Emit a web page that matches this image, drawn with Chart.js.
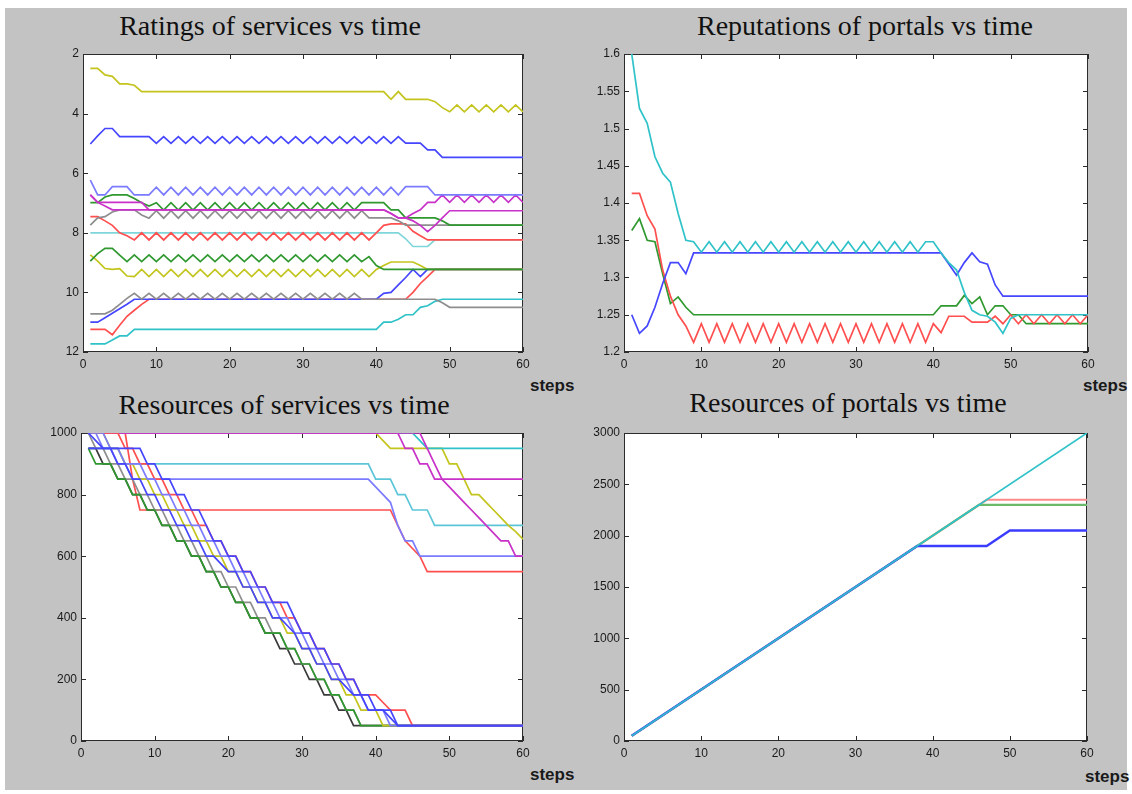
<!DOCTYPE html>
<html>
<head>
<meta charset="utf-8">
<script src="https://cdn.jsdelivr.net/npm/chart.js@4.4.0/dist/chart.umd.min.js"></script>
<style>
body { margin: 0; background: #fff; width: 1132px; height: 794px; position: relative; overflow: hidden; }
#fig { position: absolute; left: 5px; top: 8px; width: 1122px; height: 782px; background: #c3c3c3; }
canvas { position: absolute; }
.ttl { position: absolute; width: 460px; text-align: center; font: 28px "Liberation Serif", "Times New Roman", serif; color: #111; line-height: 30px; white-space: nowrap; }
.stp { position: absolute; font: bold 17px "Liberation Sans", Arial, sans-serif; color: #1a1a1a; line-height: 20px; }
</style>
</head>
<body>
<div id="fig"></div>
<div class="ttl" style="left:40px;top:11px">Ratings of services vs time</div>
<div class="ttl" style="left:635px;top:11px">Reputations of portals vs time</div>
<div class="ttl" style="left:54px;top:390px">Resources of services vs time</div>
<div class="ttl" style="left:618px;top:388px">Resources of portals vs time</div>
<div class="stp" style="left:530px;top:376px">steps</div>
<div class="stp" style="left:1083px;top:376px">steps</div>
<div class="stp" style="left:530px;top:765px">steps</div>
<div class="stp" style="left:1085px;top:767px">steps</div>
<canvas id="tl"></canvas>
<canvas id="tr"></canvas>
<canvas id="bl"></canvas>
<canvas id="br"></canvas>
<script>
const steps = [1,2,3,4,5,6,7,8,9,10,11,12,13,14,15,16,17,18,19,20,21,22,23,24,25,26,27,28,29,30,
  31,32,33,34,35,36,37,38,39,40,41,42,43,44,45,46,47,48,49,50,51,52,53,54,55,56,57,58,59,60];
const xTicks = [0, 10, 20, 30, 40, 50, 60];

// ratings of services (y axis reversed, 2 at top)
const ratYellowTop = [2.48,2.48,2.70,2.75,3.00,3.00,3.05,3.26,
  3.26,3.26,3.26,3.26,3.26,3.26,3.26,3.26,3.26,3.26,3.26,
  3.26,3.26,3.26,3.26,3.26,3.26,3.26,3.26,3.26,3.26,3.26,
  3.26,3.26,3.26,3.26,3.26,3.26,3.26,3.26,3.26,3.26,3.26,
  3.52,3.26,3.52,3.52,3.52,3.52,3.60,3.80,
  3.94,3.71,3.94,3.71,3.94,3.71,3.94,3.71,3.94,3.71,3.94];
const ratBlueUp = [5.02,4.75,4.50,4.50,4.77,4.77,4.77,4.77,4.77,
  5.00,4.77,5.00,4.77,5.00,4.77,5.00,4.77,5.00,4.77,
  5.00,4.77,5.00,4.77,5.00,4.77,5.00,4.77,5.00,4.77,
  5.00,4.77,5.00,4.77,5.00,4.77,5.00,4.77,5.00,4.77,
  5.00,4.77,5.00,4.77,
  4.99,4.99,4.99,5.22,5.22,
  5.47,5.47,5.47,5.47,5.47,5.47,5.47,5.47,5.47,5.47,5.47,5.47];
const ratBlueLow = [6.23,6.73,6.73,6.45,6.45,6.45,6.73,6.73,6.73,
  6.47,6.73,6.47,6.73,6.47,6.73,6.47,6.73,6.47,6.73,
  6.47,6.73,6.47,6.73,6.47,6.73,6.47,6.73,6.47,6.73,
  6.47,6.73,6.47,6.73,6.47,6.73,6.47,6.73,6.47,6.73,
  6.47,6.73,6.47,6.73,
  6.45,6.45,6.45,6.45,
  6.73,6.73,6.73,6.73,6.73,6.73,6.73,6.73,6.73,6.73,6.73,6.73,6.73];
const ratMagA = [6.73,6.98,6.98,6.98,6.98,6.98,6.98,6.98,7.23,
  7.23,7.23,7.23,7.23,7.23,7.23,7.23,7.23,7.23,7.23,7.23,7.23,7.23,7.23,7.23,7.23,
  7.23,7.23,7.23,7.23,7.23,7.23,7.23,7.23,7.23,7.23,7.23,7.23,7.23,7.23,7.23,7.23,
  7.35,7.50,7.50,7.35,7.23,6.98,6.98,6.73,
  6.98,6.73,6.98,6.73,6.98,6.73,6.98,6.73,6.98,6.73,6.98];
const ratMagB = [6.73,6.98,7.10,
  7.23,7.23,7.23,7.23,7.23,7.23,7.23,7.23,7.23,7.23,7.23,7.23,7.23,7.23,7.23,7.23,7.23,7.23,7.23,
  7.23,7.23,7.23,7.23,7.23,7.23,7.23,7.23,7.23,7.23,7.23,7.23,7.23,7.23,7.23,7.23,7.23,7.23,7.23,
  7.35,7.50,7.50,7.60,7.75,7.96,7.75,7.50,
  7.26,7.26,7.26,7.26,7.26,7.26,7.26,7.26,7.26,7.26,7.26];
const ratGreenUp = [6.99,6.99,6.80,6.73,6.73,6.73,6.85,6.99,7.10,
  6.99,7.24,6.99,7.24,6.99,7.24,6.99,7.24,6.99,7.24,
  6.99,7.24,6.99,7.24,6.99,7.24,6.99,7.24,6.99,7.24,
  6.99,7.24,6.99,7.24,6.99,7.24,6.99,7.24,6.99,
  6.99,6.99,6.99,7.23,7.23,7.50,7.50,7.50,7.50,7.50,7.60,
  7.74,7.74,7.74,7.74,7.74,7.74,7.74,7.74,7.74,7.74,7.74];
const ratGrayUp = [7.74,7.50,7.46,7.30,7.23,7.23,7.23,7.40,7.51,
  7.26,7.51,7.26,7.51,7.26,7.51,7.26,7.51,7.26,7.51,
  7.26,7.51,7.26,7.51,7.26,7.51,7.26,7.51,7.26,7.51,
  7.26,7.51,7.26,7.51,7.26,7.51,7.26,7.51,7.26,
  7.50,7.50,7.50,7.50,7.60,
  7.74,7.74,7.74,7.74,7.74,7.74,7.74,7.74,7.74,7.74,7.74,7.74,7.74,7.74,7.74,7.74,7.74];
const ratRedUp = [7.46,7.46,7.60,7.75,8.00,8.10,8.24,
  8.00,8.24,8.00,8.24,8.00,8.24,8.00,8.24,8.00,8.24,8.00,8.24,
  8.00,8.24,8.00,8.24,8.00,8.24,8.00,8.24,8.00,8.24,
  8.00,8.24,8.00,8.24,8.00,8.24,8.00,8.24,8.00,8.24,
  8.00,7.75,7.70,7.70,7.70,7.95,8.10,
  8.24,8.24,8.24,8.24,8.24,8.24,8.24,8.24,8.24,8.24,8.24,8.24,8.24,8.24];
const ratCyanUp = [8.00,8.00,8.00,8.00,8.00,8.00,8.00,8.00,8.00,8.00,
  8.00,8.00,8.00,8.00,8.00,8.00,8.00,8.00,8.00,8.00,
  8.00,8.00,8.00,8.00,8.00,8.00,8.00,8.00,8.00,8.00,
  8.00,8.00,8.00,8.00,8.00,8.00,8.00,8.00,8.00,8.00,
  8.00,8.00,8.00,
  8.20,8.46,8.46,8.46,
  8.24,8.24,8.24,8.24,8.24,8.24,8.24,8.24,8.24,8.24,8.24,8.24,8.24];
const ratGreenLow = [8.95,8.70,8.52,8.52,8.75,8.97,
  8.74,8.97,8.74,8.97,8.74,8.97,8.74,8.97,8.74,8.97,8.74,8.97,8.74,
  8.97,8.74,8.97,8.74,8.97,8.74,8.97,8.74,8.97,8.74,
  8.97,8.74,8.97,8.74,8.97,8.74,8.97,8.74,8.97,
  8.80,9.10,
  9.23,9.23,9.23,9.23,9.23,9.23,9.23,9.23,9.23,9.23,
  9.23,9.23,9.23,9.23,9.23,9.23,9.23,9.23,9.23,9.23];
const ratYellowLow = [8.74,8.95,9.20,9.23,9.20,9.45,9.47,
  9.23,9.47,9.23,9.47,9.23,9.47,9.23,9.47,9.23,9.47,9.23,9.47,
  9.23,9.47,9.23,9.47,9.23,9.47,9.23,9.47,9.23,9.47,
  9.23,9.47,9.23,9.47,9.23,9.47,9.23,9.47,9.23,9.47,
  9.23,9.10,8.98,8.98,8.98,8.98,9.10,
  9.23,9.23,9.23,9.23,9.23,9.23,9.23,9.23,9.23,9.23,9.23,9.23,9.23,9.23];
const ratGrayLow = [10.72,10.72,10.72,10.60,10.40,10.20,10.03,
  10.23,10.03,10.23,10.03,10.23,10.03,10.23,10.03,10.23,10.03,10.23,10.03,
  10.23,10.03,10.23,10.03,10.23,10.03,10.23,10.03,10.23,10.03,
  10.23,10.03,10.23,10.03,10.23,10.03,10.23,10.03,10.23,
  10.23,10.23,10.23,10.23,10.23,10.23,10.23,10.23,10.23,10.23,
  10.35,
  10.50,10.50,10.50,10.50,10.50,10.50,10.50,10.50,10.50,10.50,10.50];
const ratBlueLL = [11.00,11.00,10.85,10.70,10.55,10.40,
  10.23,10.23,10.23,10.23,10.23,10.23,10.23,10.23,10.23,10.23,
  10.23,10.23,10.23,10.23,10.23,10.23,10.23,10.23,10.23,10.23,
  10.23,10.23,10.23,10.23,10.23,10.23,10.23,10.23,10.23,10.23,
  10.23,10.23,10.23,10.23,
  10.03,10.00,9.75,9.50,9.23,9.47,
  9.23,9.23,9.23,9.23,9.23,9.23,9.23,9.23,9.23,9.23,9.23,9.23,9.23,9.23];
const ratRedLow = [11.24,11.24,11.24,11.42,11.10,10.80,10.60,10.40,
  10.23,10.23,10.23,10.23,10.23,10.23,10.23,10.23,10.23,10.23,
  10.23,10.23,10.23,10.23,10.23,10.23,10.23,10.23,10.23,10.23,
  10.23,10.23,10.23,10.23,10.23,10.23,10.23,10.23,10.23,10.23,
  10.23,10.23,10.23,10.23,10.23,10.23,
  10.00,9.70,9.47,
  9.23,9.23,9.23,9.23,9.23,9.23,9.23,9.23,9.23,9.23,9.23,9.23,9.23];
const ratCyanLow = [11.73,11.73,11.73,11.60,11.46,11.46,
  11.24,11.24,11.24,11.24,11.24,11.24,11.24,11.24,11.24,11.24,
  11.24,11.24,11.24,11.24,11.24,11.24,11.24,11.24,11.24,11.24,
  11.24,11.24,11.24,11.24,11.24,11.24,11.24,11.24,11.24,11.24,
  11.24,11.24,11.24,11.24,
  11.00,11.00,10.90,10.75,10.75,10.50,10.45,10.30,
  10.23,10.23,10.23,10.23,10.23,10.23,10.23,10.23,10.23,10.23,10.23,10.23];

// reputations of portals
const repCyan = [1.600,1.527,1.507,1.462,1.440,1.428,1.386,1.350,1.348,
  1.334,1.348,1.334,1.348,1.334,1.348,1.334,1.348,1.334,1.348,
  1.334,1.348,1.334,1.348,1.334,1.348,1.334,1.348,1.334,1.348,
  1.334,1.348,1.334,1.348,1.334,1.348,1.334,1.348,1.334,
  1.348,1.348,1.333,1.320,1.310,1.280,1.256,1.250,1.248,1.240,1.225,1.245,
  1.250,1.250,1.250,1.250,1.250,1.250,1.250,1.250,1.250,1.250];
const repBlue = [1.250,1.225,1.235,1.260,1.292,1.320,1.320,1.305,
  1.333,1.333,1.333,1.333,1.333,1.333,1.333,1.333,1.333,1.333,1.333,
  1.333,1.333,1.333,1.333,1.333,1.333,1.333,1.333,1.333,1.333,1.333,
  1.333,1.333,1.333,1.333,1.333,1.333,1.333,1.333,1.333,1.333,1.333,
  1.318,1.303,1.320,1.333,1.321,1.318,1.290,
  1.275,1.275,1.275,1.275,1.275,1.275,1.275,1.275,1.275,1.275,1.275,1.275];
const repRed = [1.413,1.413,1.383,1.365,1.310,1.275,1.250,1.235,1.213,
  1.238,1.213,1.238,1.213,1.238,1.213,1.238,1.213,1.238,1.213,
  1.238,1.213,1.238,1.213,1.238,1.213,1.238,1.213,1.238,1.213,
  1.238,1.213,1.238,1.213,1.238,1.213,1.238,1.213,1.238,1.213,
  1.238,
  1.226,1.248,1.248,1.248,1.240,1.240,1.240,1.248,
  1.238,1.250,1.238,1.250,1.238,1.250,1.238,1.250,1.238,1.250,1.238,1.250];
const repGreen = [1.363,1.379,1.350,1.348,1.305,1.265,1.274,1.260,
  1.250,1.250,1.250,1.250,1.250,1.250,1.250,1.250,1.250,1.250,1.250,
  1.250,1.250,1.250,1.250,1.250,1.250,1.250,1.250,1.250,1.250,
  1.250,1.250,1.250,1.250,1.250,1.250,1.250,1.250,1.250,1.250,1.250,
  1.262,1.262,1.262,1.276,1.265,1.274,1.250,1.262,1.262,1.250,1.250,
  1.238,1.238,1.238,1.238,1.238,1.238,1.238,1.238,1.238,1.238];

// resources of services
const resMagA = [1000,1000,1000,1000,1000,1000,1000,1000,1000,1000,
  1000,1000,1000,1000,1000,1000,1000,1000,1000,1000,
  1000,1000,1000,1000,1000,1000,1000,1000,1000,1000,
  1000,1000,1000,1000,1000,1000,1000,1000,1000,1000,
  1000,1000,1000,1000,1000,1000,
  950,900,
  850,850,850,850,850,850,850,850,850,850,850,850];
const resMagB = [1000,1000,1000,1000,1000,1000,1000,1000,1000,1000,
  1000,1000,1000,1000,1000,1000,1000,1000,1000,1000,
  1000,1000,1000,1000,1000,1000,1000,1000,1000,1000,
  1000,1000,1000,1000,1000,1000,1000,1000,1000,1000,
  1000,1000,1000,
  950,950,900,900,850,850,825,800,775,750,725,700,675,650,650,600,600];
const resCyanA = [1000,1000,1000,1000,1000,1000,1000,1000,1000,1000,
  1000,1000,1000,1000,1000,1000,1000,1000,1000,1000,
  1000,1000,1000,1000,1000,1000,1000,1000,1000,1000,
  1000,1000,1000,1000,1000,1000,1000,1000,1000,1000,
  1000,1000,1000,1000,1000,
  975,
  950,950,950,950,950,950,950,950,950,950,950,950,950,950];
const resYellowA = [1000,1000,1000,1000,1000,1000,1000,1000,1000,1000,
  1000,1000,1000,1000,1000,1000,1000,1000,1000,1000,
  1000,1000,1000,1000,1000,1000,1000,1000,1000,1000,
  1000,1000,1000,1000,1000,1000,1000,1000,1000,1000,
  975,950,950,950,950,950,950,950,950,
  900,900,850,800,800,775,750,725,700,680,655];
const resCyanB = [950,950,950,950,950,
  900,900,900,900,900,900,900,900,900,900,
  900,900,900,900,900,900,900,900,900,900,
  900,900,900,900,900,900,900,900,900,900,
  900,900,900,900,
  850,850,850,800,800,750,750,750,
  700,700,700,700,700,700,700,700,700,700,700,700,700];
const resBlueA = [1000,1000,950,950,900,900,
  850,850,850,850,850,850,850,850,850,850,
  850,850,850,850,850,850,850,850,850,850,
  850,850,850,850,850,850,850,850,850,850,
  850,850,850,
  825,800,775,700,650,650,
  600,600,600,600,600,600,600,600,600,600,600,600,600,600,600];
const resRedA = [1000,1000,1000,1000,1000,1000,850,
  750,750,750,750,750,750,750,750,750,750,
  750,750,750,750,750,750,750,750,750,750,
  750,750,750,750,750,750,750,750,750,750,
  750,750,750,750,750,
  700,650,625,600,
  550,550,550,550,550,550,550,550,550,550,550,550,550,550];
const resBlack = [950,950,900,900,850,850,800,800,750,750,700,700,650,650,600,600,550,550,
  500,500,450,450,400,400,350,350,300,300,250,250,200,200,150,150,100,100,
  50,50,50,50,50,50,50,50,50,50,50,50,50,50,50,50,50,50,50,50,50,50,50,50];
const resGray = [1000,950,950,900,900,850,850,800,800,750,750,700,700,650,650,600,600,550,550,
  500,500,450,450,400,400,350,350,300,300,250,250,200,200,150,150,100,100,
  50,50,50,50,50,50,50,50,50,50,50,50,50,50,50,50,50,50,50,50,50,50,50];
const resGreen = [950,900,900,900,850,850,800,800,750,750,700,700,650,650,600,600,550,550,
  500,500,450,450,400,400,350,350,350,300,300,250,250,200,200,150,150,100,100,
  50,50,50,50,50,50,50,50,50,50,50,50,50,50,50,50,50,50,50,50,50,50,50];
const resYellowB = [1000,1000,1000,950,950,900,900,850,850,800,800,750,750,700,700,650,650,
  600,600,550,550,500,500,450,450,400,400,350,350,300,300,250,250,200,200,150,150,100,100,100,
  50,50,50,50,50,50,50,50,50,50,50,50,50,50,50,50,50,50,50,50];
const resBlueB = [1000,1000,1000,950,950,900,900,900,850,850,800,800,750,750,700,700,650,650,
  600,600,550,550,500,500,450,450,400,400,350,350,300,300,250,250,200,200,150,150,100,100,100,
  50,50,50,50,50,50,50,50,50,50,50,50,50,50,50,50,50,50,50];
const resBlueC = [950,950,950,950,950,950,950,950,900,900,850,850,800,800,750,750,700,650,650,
  600,600,550,550,500,500,450,450,450,400,350,350,300,300,250,250,200,200,150,150,100,100,100,
  50,50,50,50,50,50,50,50,50,50,50,50,50,50,50,50,50,50];
const resBlueD = [1000,975,950,950,900,900,850,850,800,800,750,750,700,700,650,650,600,600,575,
  550,550,500,500,450,450,400,400,375,350,300,300,250,250,200,200,175,150,150,100,100,100,75,
  50,50,50,50,50,50,50,50,50,50,50,50,50,50,50,50,50,50];
const resRedB = [1000,1000,1000,1000,1000,950,950,900,900,850,850,800,800,750,750,700,700,
  650,650,600,600,550,550,500,500,450,450,400,400,350,350,300,300,250,250,200,200,150,150,150,
  125,100,100,100,
  50,50,50,50,50,50,50,50,50,50,50,50,50,50,50,50];

// resources of portals (break points)
const portalCyanX = [1, 60];
const portalCyanY = [50, 3000];
const portalBlueX = [1, 38, 47, 50, 60];
const portalBlueY = [50, 1900, 1900, 2050, 2050];
const portalGreenX = [1, 46, 60];
const portalGreenY = [50, 2300, 2300];
const portalRedX = [1, 47, 60];
const portalRedY = [50, 2350, 2350];

const C = {
  blue: '#4646ff', lblue: '#7b7bff', green: '#2f982f', red: '#ff4f4f',
  cyan: '#2fc2c8', mag: '#c832c8', yel: '#c4c41e', gray: '#8e8e8e', black: '#3a3a3a'
};
const tickFont = { family: '"Liberation Sans", Arial, sans-serif', size: 12 };

function line(xs, ys, color, w) {
  return {
    data: ys.map((v, i) => ({ x: xs[i], y: v })),
    borderColor: color, borderWidth: w || 1.7,
    pointRadius: 0, tension: 0, fill: false
  };
}

const boxPlugin = {
  id: 'box',
  beforeDraw(c) {
    const a = c.chartArea, g = c.ctx;
    g.save();
    g.fillStyle = '#fff';
    g.fillRect(a.left, a.top, a.right - a.left, a.bottom - a.top);
    g.restore();
  },
  beforeDatasetsDraw(c) {
    const a = c.chartArea, g = c.ctx, sx = c.scales.x, sy = c.scales.y;
    g.save();
    g.strokeStyle = '#2b2b2b';
    g.lineWidth = 1;
    g.beginPath();
    sx.ticks.forEach(t => {
      const p = Math.round(sx.getPixelForValue(t.value)) + 0.5;
      g.moveTo(p, a.bottom); g.lineTo(p, a.bottom - 5);
      g.moveTo(p, a.top); g.lineTo(p, a.top + 5);
    });
    sy.ticks.forEach(t => {
      const p = Math.round(sy.getPixelForValue(t.value)) + 0.5;
      g.moveTo(a.left, p); g.lineTo(a.left + 5, p);
      g.moveTo(a.right, p); g.lineTo(a.right - 5, p);
    });
    g.stroke();
    g.strokeRect(Math.round(a.left) + 0.5, Math.round(a.top) + 0.5,
      Math.round(a.right - a.left) - 1, Math.round(a.bottom - a.top) - 1);
    g.restore();
  }
};

function plot(id, box, datasets, yOpts) {
  const padL = 44, padT = 12, padR = 12, padB = 24;
  const cv = document.getElementById(id);
  const w = box.r - box.l + padL + padR, h = box.b - box.t + padT + padB;
  cv.width = w; cv.height = h;
  cv.style.width = w + 'px'; cv.style.height = h + 'px';
  cv.style.left = (box.l - padL) + 'px'; cv.style.top = (box.t - padT) + 'px';
  new Chart(cv, {
    type: 'line',
    data: { datasets },
    options: {
      responsive: false, animation: false, devicePixelRatio: 1,
      layout: { padding: { left: 0, top: padT, right: padR, bottom: 0 } },
      plugins: { legend: { display: false }, tooltip: { enabled: false } },
      scales: {
        x: {
          type: 'linear', min: 0, max: 60,
          afterBuildTicks: s => { s.ticks = xTicks.map(v => ({ value: v })); },
          ticks: { padding: 5, font: tickFont, color: '#1a1a1a', maxRotation: 0, autoSkip: false,
            callback: v => String(v) },
          grid: { display: false, drawTicks: false }, border: { display: false },
          afterFit: s => { s.height = padB; }
        },
        y: Object.assign({
          type: 'linear',
          grid: { display: false, drawTicks: false }, border: { display: false },
          afterFit: s => { s.width = padL; }
        }, yOpts)
      }
    },
    plugins: [boxPlugin]
  });
}

const yTick = (extra) => Object.assign({ padding: 4, font: tickFont, color: '#1a1a1a', autoSkip: false,
  callback: v => String(+v.toFixed(2)) }, extra);

plot('tl', { l: 83, t: 54, r: 523, b: 352 }, [
  line(steps, ratBlueUp, C.blue),
  line(steps, ratYellowTop, C.yel),
  line(steps, ratBlueLow, C.lblue),
  line(steps, ratMagA, C.mag),
  line(steps, ratMagB, C.mag),
  line(steps, ratGreenUp, C.green),
  line(steps, ratGrayUp, C.gray),
  line(steps, ratRedUp, C.red),
  line(steps, ratCyanUp, '#7fd6da'),
  line(steps, ratGreenLow, C.green),
  line(steps, ratYellowLow, C.yel),
  line(steps, ratGrayLow, C.gray),
  line(steps, ratBlueLL, C.blue),
  line(steps, ratRedLow, C.red),
  line(steps, ratCyanLow, C.cyan)
], { min: 2, max: 12, reverse: true, ticks: yTick({ stepSize: 2 }) });

plot('tr', { l: 624, t: 54, r: 1088, b: 352 }, [
  line(steps, repCyan, C.cyan),
  line(steps, repBlue, C.blue),
  line(steps, repRed, C.red),
  line(steps, repGreen, C.green)
], { min: 1.2, max: 1.6, ticks: yTick({ stepSize: 0.05 }) });

plot('bl', { l: 81, t: 433, r: 523, b: 741 }, [
  line(steps, resBlueC, C.blue),
  line(steps, resBlueD, C.blue),
  line(steps, resBlueB, C.lblue),
  line(steps, resRedB, C.red),
  line(steps, resYellowB, C.yel),
  line(steps, resGreen, C.green),
  line(steps, resGray, C.gray),
  line(steps, resBlack, C.black),
  line(steps, resMagA, C.mag),
  line(steps, resMagB, C.mag),
  line(steps, resCyanA, C.cyan),
  line(steps, resYellowA, C.yel),
  line(steps, resCyanB, '#5cc6d8'),
  line(steps, resBlueA, C.lblue),
  line(steps, resRedA, C.red)
], { min: 0, max: 1000, ticks: yTick({ stepSize: 200 }) });

plot('br', { l: 624, t: 433, r: 1087, b: 741 }, [
  line(portalCyanX, portalCyanY, C.cyan),
  line(portalBlueX, portalBlueY, '#3c3cff', 2.4),
  line(portalGreenX, portalGreenY, '#6ab86a', 2.2),
  line(portalRedX, portalRedY, '#ff8a8a', 2.2)
], { min: 0, max: 3000, ticks: yTick({ stepSize: 500 }) });
</script>
</body>
</html>
